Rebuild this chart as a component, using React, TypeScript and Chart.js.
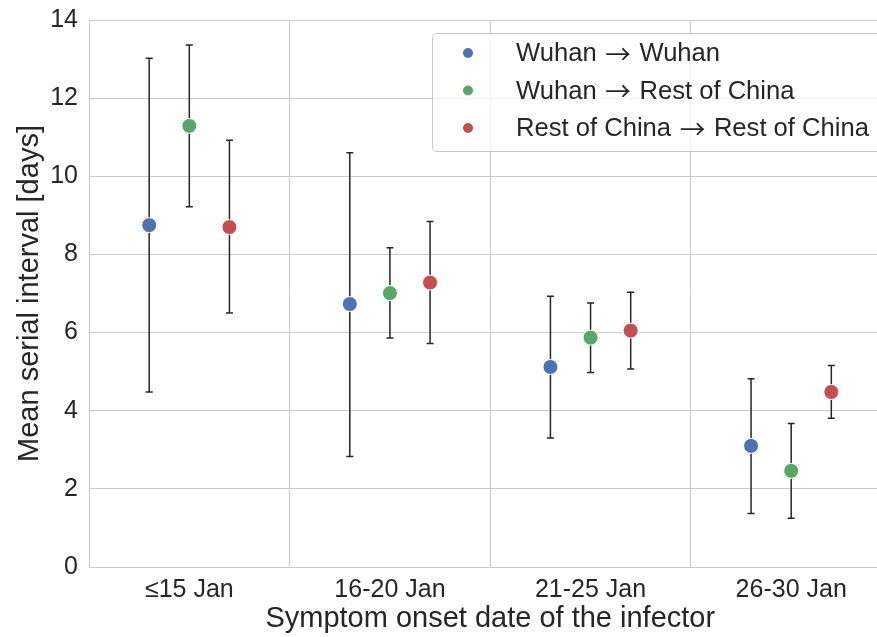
import React, { useEffect, useRef } from "react";
import { Chart, registerables } from "chart.js";

Chart.register(...registerables);

const categories = ["≤15 Jan", "16-20 Jan", "21-25 Jan", "26-30 Jan"];
const seriesNames = ["Wuhan → Wuhan", "Wuhan → Rest of China", "Rest of China → Rest of China"];
const seriesColors = ["#4C72B0", "#55A868", "#C44E52"];
const wuhanWuhan = [8.75, 6.73, 5.12, 3.1];
const wuhanWuhanLow = [4.48, 2.83, 3.3, 1.37];
const wuhanWuhanHigh = [13.02, 10.6, 6.93, 4.82];
const wuhanRest = [11.29, 7.01, 5.87, 2.46];
const wuhanRestLow = [9.22, 5.86, 4.98, 1.25];
const wuhanRestHigh = [13.36, 8.17, 6.76, 3.67];
const restRest = [8.7, 7.28, 6.05, 4.48];
const restRestLow = [6.5, 5.72, 5.07, 3.81];
const restRestHigh = [10.92, 8.84, 7.03, 5.16];
const yTicks = [0, 2, 4, 6, 8, 10, 12, 14];

const FONT = "'Liberation Sans', Arial, sans-serif";
const ARROW_FONT = "'Noto Sans CJK JP', 'DejaVu Sans', sans-serif";
const TEXT = "#262626";
const GRID = "#cccccc";
const dodge = [-0.2, 0, 0.2];

const values = [wuhanWuhan, wuhanRest, restRest];
const lows = [wuhanWuhanLow, wuhanRestLow, restRestLow];
const highs = [wuhanWuhanHigh, wuhanRestHigh, restRestHigh];

const errorBars = {
  id: "errorBars",
  beforeDatasetsDraw(chart: any) {
    const { ctx, scales } = chart;
    const xs = scales.x;
    const ys = scales.y;
    ctx.save();
    ctx.strokeStyle = "#262626";
    ctx.lineWidth = 1.5;
    values.forEach((vals, s) => {
      vals.forEach((_, i) => {
        const px = xs.getPixelForValue(i + dodge[s]);
        const top = ys.getPixelForValue(highs[s][i]);
        const bot = ys.getPixelForValue(lows[s][i]);
        ctx.beginPath();
        ctx.moveTo(px, top);
        ctx.lineTo(px, bot);
        ctx.moveTo(px - 3.5, top);
        ctx.lineTo(px + 3.5, top);
        ctx.moveTo(px - 3.5, bot);
        ctx.lineTo(px + 3.5, bot);
        ctx.stroke();
      });
    });
    ctx.restore();
  },
};

const customLegend = {
  id: "customLegend",
  afterDatasetsDraw(chart: any) {
    const { ctx } = chart;
    ctx.save();
    const x0 = 432.5, y0 = 33.5, w = 520, h = 118, r = 4;
    ctx.beginPath();
    ctx.moveTo(x0 + r, y0);
    ctx.lineTo(x0 + w, y0);
    ctx.lineTo(x0 + w, y0 + h);
    ctx.lineTo(x0 + r, y0 + h);
    ctx.arcTo(x0, y0 + h, x0, y0 + h - r, r);
    ctx.lineTo(x0, y0 + r);
    ctx.arcTo(x0, y0, x0 + r, y0, r);
    ctx.closePath();
    ctx.fillStyle = "rgba(255,255,255,0.8)";
    ctx.fill();
    ctx.strokeStyle = "#c8c8c8";
    ctx.lineWidth = 1;
    ctx.stroke();
    ctx.textBaseline = "middle";
    ctx.textAlign = "left";
    seriesNames.forEach((name, i) => {
      const cy = 53 + i * 37.5;
      ctx.beginPath();
      ctx.arc(468, cy, 5, 0, Math.PI * 2);
      ctx.fillStyle = seriesColors[i];
      ctx.fill();
      ctx.fillStyle = TEXT;
      const parts = name.split("→");
      let x = 516;
      parts.forEach((p, k) => {
        ctx.font = `25.6px ${FONT}`;
        ctx.fillText(p, x, cy + 1);
        x += ctx.measureText(p).width + (k < parts.length - 1 ? 1.5 : 0);
        if (k < parts.length - 1) {
          ctx.font = `25.6px ${ARROW_FONT}`;
          ctx.fillText("→", x, cy + 1);
          x += ctx.measureText("→").width + 1.5;
        }
      });
    });
    ctx.restore();
  },
};

export default function App() {
  const ref = useRef<HTMLCanvasElement>(null);
  useEffect(() => {
    if (!ref.current) return;
    const chart = new Chart(ref.current, {
      type: "scatter",
      data: {
        datasets: values.map((vals, s) => ({
          label: seriesNames[s],
          data: vals.map((v, i) => ({ x: i + dodge[s], y: v })),
          backgroundColor: seriesColors[s],
          borderColor: "#ffffff",
          borderWidth: 1,
          pointRadius: 7.5,
          pointHoverRadius: 7.5,
        })),
      },
      options: {
        animation: false,
        responsive: false,
        events: [],
        layout: { padding: { top: 20, right: 8, left: 0, bottom: 0 } },
        plugins: { legend: { display: false }, tooltip: { enabled: false } },
        scales: {
          x: {
            type: "linear",
            min: -0.5,
            max: 3.5,
            afterBuildTicks(scale: any) {
              scale.ticks = [0, 0.5, 1, 1.5, 2, 2.5, 3].map((v) => ({ value: v }));
            },
            afterFit(scale: any) {
              scale.height = 70;
              scale.paddingLeft = 0;
              scale.paddingRight = 0;
            },
            grid: {
              drawTicks: false,
              color: (c: any) => (c.tick && c.tick.value % 1 !== 0 ? GRID : "rgba(0,0,0,0)"),
              lineWidth: 1,
            },
            border: { display: true, color: GRID },
            ticks: {
              autoSkip: false,
              maxRotation: 0,
              padding: 8,
              color: TEXT,
              font: { family: FONT, size: 25 },
              callback: (v: any) => (Number(v) % 1 === 0 ? categories[Number(v)] : ""),
            },
            title: {
              display: true,
              text: "Symptom onset date of the infector",
              color: TEXT,
              font: { family: FONT, size: 29 },
              padding: { top: 0, bottom: 1 },
            },
          },
          y: {
            min: 0,
            max: 14,
            afterBuildTicks(scale: any) {
              scale.ticks = yTicks.map((v) => ({ value: v }));
            },
            afterFit(scale: any) {
              scale.width = 89;
              scale.paddingTop = 0;
              scale.paddingBottom = 0;
            },
            grid: { drawTicks: false, color: GRID, lineWidth: 1 },
            border: { display: true, color: GRID },
            ticks: {
              padding: 11,
              color: TEXT,
              font: { family: FONT, size: 25 },
            },
            title: {
              display: true,
              text: "Mean serial interval [days]",
              color: TEXT,
              font: { family: FONT, size: 29 },
              padding: { top: 13, bottom: 0 },
            },
          },
        },
      },
      plugins: [errorBars, customLegend],
    });
    return () => chart.destroy();
  }, []);
  return (
    <div style={{ position: "fixed", left: 0, top: 0, width: 877, height: 637, overflow: "hidden", background: "#fff" }}>
      <canvas ref={ref} width={900} height={637} style={{ display: "block" }} />
    </div>
  );
}
